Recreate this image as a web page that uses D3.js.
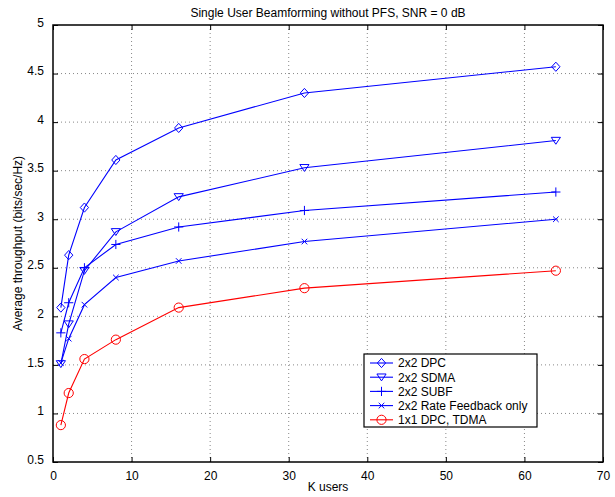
<!DOCTYPE html>
<html>
<head>
<meta charset="utf-8">
<script src="https://cdn.jsdelivr.net/npm/d3@7"></script>
<style>
  body { margin: 0; background: #fff; }
  svg { display: block; font-family: "Liberation Sans", Arial, Helvetica, sans-serif; }
</style>
</head>
<body>
<svg id="chart"></svg>
<script>
const users = [1, 2, 4, 8, 16, 32, 64];
const dpc = [2.09, 2.63, 3.12, 3.61, 3.94, 4.30, 4.57];
const sdma = [1.51, 1.92, 2.47, 2.87, 3.23, 3.53, 3.81];
const subf = [1.83, 2.14, 2.50, 2.74, 2.92, 3.09, 3.28];
const rateFb = [1.52, 1.77, 2.12, 2.40, 2.57, 2.77, 3.00];
const tdma = [0.88, 1.21, 1.56, 1.76, 2.09, 2.29, 2.47];
const seriesNames = ["2x2 DPC", "2x2 SDMA", "2x2 SUBF", "2x2 Rate Feedback only", "1x1 DPC, TDMA"];
const xTicks = [0, 10, 20, 30, 40, 50, 60, 70];
const yTicks = [0.5, 1, 1.5, 2, 2.5, 3, 3.5, 4, 4.5, 5];

const series = [
  { name: seriesNames[0], values: dpc, color: "#0000ff", marker: "diamond" },
  { name: seriesNames[1], values: sdma, color: "#0000ff", marker: "triangle" },
  { name: seriesNames[2], values: subf, color: "#0000ff", marker: "plus" },
  { name: seriesNames[3], values: rateFb, color: "#0000ff", marker: "cross" },
  { name: seriesNames[4], values: tdma, color: "#ff0000", marker: "circle" }
];

const width = 615, height = 497;
const margin = { top: 25, right: 12, bottom: 35, left: 53 };
const innerW = width - margin.left - margin.right;
const innerH = height - margin.top - margin.bottom;

const svg = d3.select("#chart").attr("width", width).attr("height", height);
const g = svg.append("g").attr("transform", `translate(${margin.left},${margin.top})`);

const x = d3.scaleLinear().domain([0, 70]).range([0, innerW]);
const y = d3.scaleLinear().domain([0.5, 5]).range([innerH, 0]);

// grid (dotted)
g.append("g").selectAll("line").data(xTicks.slice(1, -1)).join("line")
  .attr("x1", d => x(d)).attr("x2", d => x(d))
  .attr("y1", 0).attr("y2", innerH)
  .attr("stroke", "#888").attr("stroke-width", 1).attr("stroke-dasharray", "1,3");
g.append("g").selectAll("line").data(yTicks.slice(1, -1)).join("line")
  .attr("x1", 0).attr("x2", innerW)
  .attr("y1", d => y(d)).attr("y2", d => y(d))
  .attr("stroke", "#888").attr("stroke-width", 1).attr("stroke-dasharray", "1,3");

// axes with inward ticks
const tickLen = 5;
const xAxis = g.append("g").attr("transform", `translate(0,${innerH})`)
  .call(d3.axisBottom(x).tickValues(xTicks).tickSize(-tickLen).tickPadding(9).tickFormat(d3.format("d")));
const xTop = g.append("g")
  .call(d3.axisTop(x).tickValues(xTicks).tickSize(-tickLen).tickFormat(""));
const yAxis = g.append("g")
  .call(d3.axisLeft(y).tickValues(yTicks).tickSize(-tickLen).tickPadding(9).tickFormat(d => d));
const yRight = g.append("g").attr("transform", `translate(${innerW},0)`)
  .call(d3.axisRight(y).tickValues(yTicks).tickSize(-tickLen).tickFormat(""));

[xAxis, xTop, yAxis, yRight].forEach(a => {
  a.select(".domain").remove();
  a.selectAll("line").attr("stroke", "#000");
  a.selectAll("text").attr("font-size", 12).attr("fill", "#000")
    .attr("font-family", "Liberation Sans, Arial, sans-serif");
});
yAxis.selectAll("text").attr("dy", "0.1em");

g.append("rect").attr("width", innerW).attr("height", innerH)
  .attr("fill", "none").attr("stroke", "#000").attr("stroke-width", 1.5);

// lines
const line = d3.line().x((d, i) => x(users[i])).y(d => y(d));
series.forEach(s => {
  g.append("path").datum(s.values).attr("d", line)
    .attr("fill", "none").attr("stroke", s.color).attr("stroke-width", 1.1);
});

function drawMarker(sel, type, color, cx, cy) {
  const r = 4.6;
  if (type === "diamond") {
    sel.append("path").attr("d", `M${cx},${cy - r}L${cx + r * 0.9},${cy}L${cx},${cy + r}L${cx - r * 0.9},${cy}Z`)
      .attr("fill", "none").attr("stroke", color);
  } else if (type === "triangle") {
    sel.append("path").attr("d", `M${cx - r},${cy - r * 0.7}L${cx + r},${cy - r * 0.7}L${cx},${cy + r * 0.8}Z`)
      .attr("fill", "none").attr("stroke", color);
  } else if (type === "plus") {
    sel.append("path").attr("d", `M${cx - r},${cy}L${cx + r},${cy}M${cx},${cy - r}L${cx},${cy + r}`)
      .attr("fill", "none").attr("stroke", color);
  } else if (type === "cross") {
    const c = 2.8;
    sel.append("path").attr("d", `M${cx - c},${cy - c}L${cx + c},${cy + c}M${cx - c},${cy + c}L${cx + c},${cy - c}`)
      .attr("fill", "none").attr("stroke", color);
  } else {
    sel.append("circle").attr("cx", cx).attr("cy", cy).attr("r", r)
      .attr("fill", "none").attr("stroke", color);
  }
}

series.forEach(s => {
  const mg = g.append("g");
  s.values.forEach((v, i) => drawMarker(mg, s.marker, s.color, x(users[i]), y(v)));
});

// title and labels
svg.append("text").attr("x", margin.left + innerW / 2).attr("y", 17)
  .attr("text-anchor", "middle").attr("font-size", 12).text("Single User Beamforming without PFS, SNR = 0 dB");
svg.append("text").attr("x", margin.left + innerW / 2).attr("y", 491)
  .attr("text-anchor", "middle").attr("font-size", 12).text("K users");
svg.append("text").attr("transform", `translate(22,${margin.top + innerH / 2}) rotate(-90)`)
  .attr("text-anchor", "middle").attr("font-size", 12).text("Average throughput (bits/sec/Hz)");

// legend
const lg = svg.append("g").attr("transform", "translate(364,354)");
lg.append("rect").attr("width", 173).attr("height", 73)
  .attr("fill", "#fff").attr("stroke", "#000").attr("stroke-width", 1.2);
series.forEach((s, i) => {
  const yy = 9 + i * 14.2;
  lg.append("line").attr("x1", 6).attr("x2", 29).attr("y1", yy).attr("y2", yy)
    .attr("stroke", s.color).attr("stroke-width", 1.1);
  drawMarker(lg, s.marker, s.color, 17.5, yy);
  lg.append("text").attr("x", 34).attr("y", yy + 4.3).attr("font-size", 12).text(s.name);
});
</script>
</body>
</html>
